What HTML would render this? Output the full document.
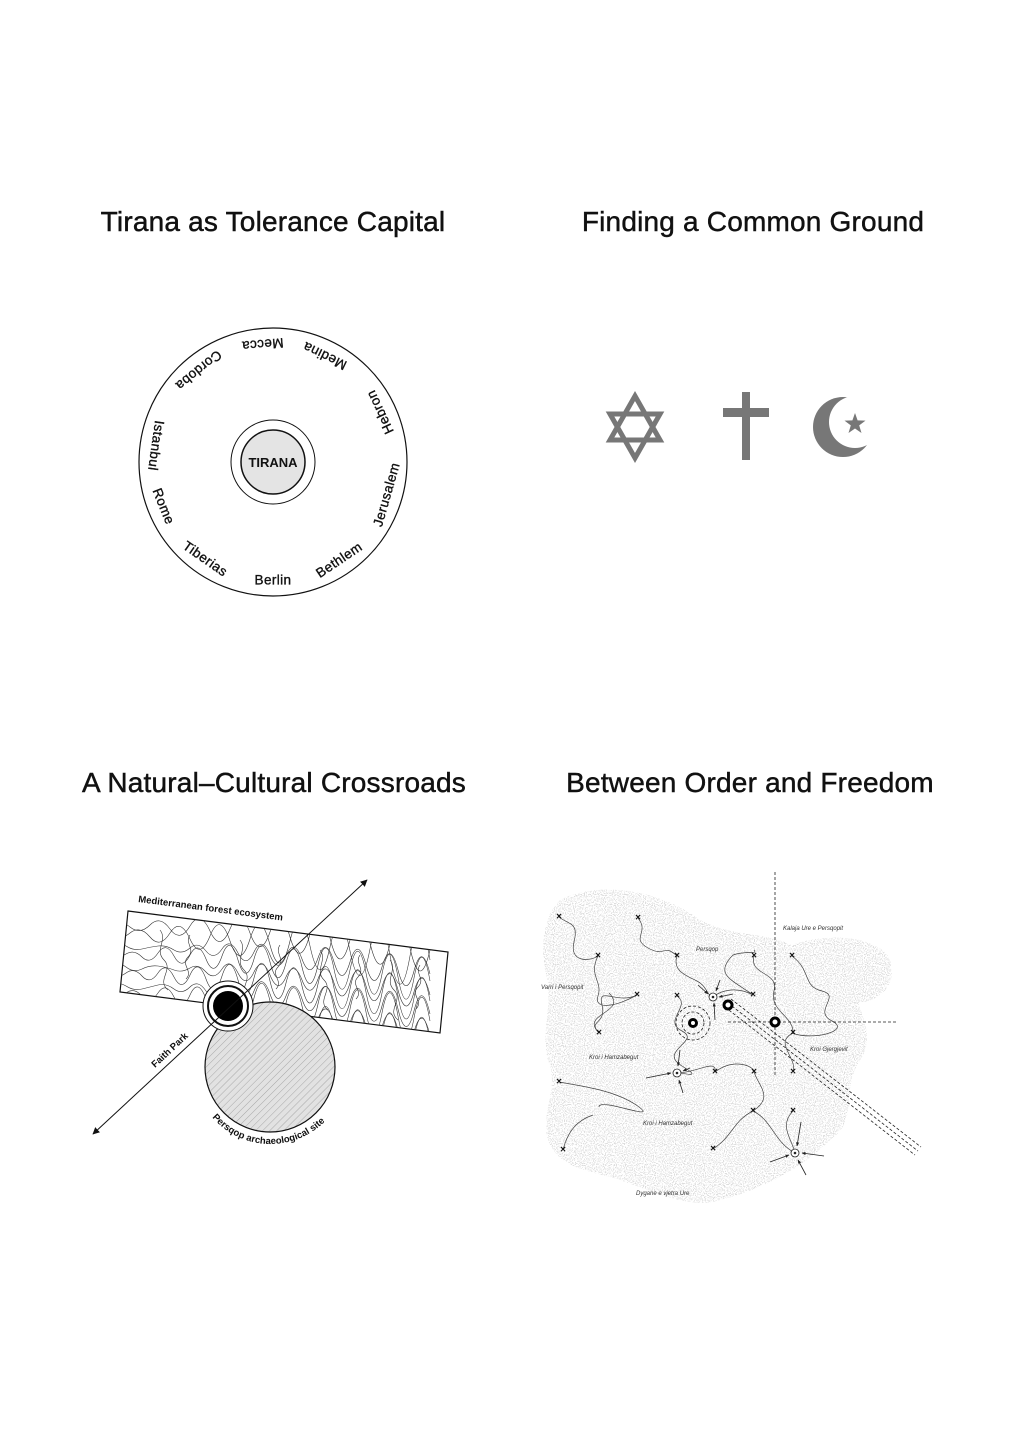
<!DOCTYPE html>
<html><head><meta charset="utf-8"><style>
html,body{margin:0;padding:0;background:#fff}
svg{display:block}
.t{font-family:"Liberation Sans",sans-serif;font-size:28px;fill:#111;stroke:#111;stroke-width:0.45px;letter-spacing:0.2px}
.c{font-family:"Liberation Sans",sans-serif;font-size:13.5px;fill:#111;stroke:#111;stroke-width:0.35px;letter-spacing:0.4px}
.m{font-family:"Liberation Sans",sans-serif;font-size:6px;font-style:italic;fill:#333}
</style></head><body>
<svg width="1017" height="1438" viewBox="0 0 1017 1438" xmlns="http://www.w3.org/2000/svg">
<defs>
<filter id="stip" x="0" y="0" width="100%" height="100%">
<feTurbulence type="fractalNoise" baseFrequency="0.9" numOctaves="1" seed="3" result="n"/>
<feColorMatrix in="n" type="matrix" values="0 0 0 0 0.72  0 0 0 0 0.72  0 0 0 0 0.72  0 0 0 -16 7.6" result="d"/>
<feComposite in="d" in2="SourceGraphic" operator="in"/>
</filter>
<pattern id="hatch" width="5" height="5" patternUnits="userSpaceOnUse" patternTransform="rotate(45)">
<rect width="5" height="5" fill="#e2e2e2"/><line x1="0" y1="0" x2="0" y2="5" stroke="#999" stroke-width="0.8"/>
</pattern>
<clipPath id="band"><polygon points="128,911 448,952 440,1033 120,992"/></clipPath>
<marker id="ah" viewBox="0 0 10 10" refX="9" refY="5" markerWidth="7" markerHeight="7" orient="auto-start-reverse"><path d="M0,0 L10,5 L0,10 z" fill="#111"/></marker>
<marker id="sa" viewBox="0 0 10 10" refX="9" refY="5" markerWidth="5" markerHeight="5" orient="auto"><path d="M0,1 L10,5 L0,9 z" fill="#222"/></marker>
</defs>

<text class="t" x="273" y="231" text-anchor="middle">Tirana as Tolerance Capital</text>
<text class="t" x="753" y="231" text-anchor="middle">Finding a Common Ground</text>
<text class="t" x="274" y="792" text-anchor="middle">A Natural–Cultural Crossroads</text>
<text class="t" x="750" y="792" text-anchor="middle">Between Order and Freedom</text>

<!-- Circle diagram -->
<circle cx="273" cy="462" r="134" fill="none" stroke="#111" stroke-width="1.2"/>
<circle cx="273" cy="462" r="42" fill="none" stroke="#111" stroke-width="1"/>
<circle cx="273" cy="462" r="32" fill="#e4e4e4" stroke="#111" stroke-width="1.5"/>
<text x="273" y="467" text-anchor="middle" font-family="Liberation Sans,sans-serif" font-weight="bold" font-size="13" fill="#111">TIRANA</text>
<g class="c" text-anchor="middle" dominant-baseline="middle">
<text transform="translate(273,462) rotate(0) translate(0,119)">Berlin</text>
<text transform="translate(273,462) rotate(-34) translate(0,119)">Bethlem</text>
<text transform="translate(273,462) rotate(-74) translate(0,119)">Jerusalem</text>
<text transform="translate(273,462) rotate(-115) translate(0,119)">Hebron</text>
<text transform="translate(273,462) rotate(-154) translate(0,119)">Medina</text>
<text transform="translate(273,462) rotate(-185) translate(0,119)">Mecca</text>
<text transform="translate(273,462) rotate(-219) translate(0,119)">Cordoba</text>
<text transform="translate(273,462) rotate(-262) translate(0,119)">Istanbul</text>
<text transform="translate(273,462) rotate(-292) translate(0,119)">Rome</text>
<text transform="translate(273,462) rotate(-325) translate(0,119)">Tiberias</text>
</g>

<!-- Religious symbols -->
<g fill="none" stroke="#777" stroke-width="5" stroke-linejoin="miter">
<polygon points="635,396 660,440 610,440"/>
<polygon points="635,458 660,414 610,414"/>
</g>
<rect x="742" y="392" width="8" height="68" fill="#777"/>
<rect x="723" y="408" width="46" height="9" fill="#777"/>
<circle cx="843" cy="427" r="30" fill="#777"/>
<circle cx="855" cy="422" r="26" fill="#fff"/>
<polygon fill="#777" points="855,413 857.6,420.4 865.5,420.6 859.2,425.4 861.5,433 855,428.5 848.5,433 850.8,425.4 844.5,420.6 852.4,420.4"/>

<!-- Natural-Cultural crossroads -->
<polygon points="128,911 448,952 440,1033 120,992" fill="#fff" stroke="#111" stroke-width="1.2"/>
<g clip-path="url(#band)" fill="none" stroke="#333" stroke-width="0.6">
<path d="M110,925 q10,-6 20,2 t20,-2 t20,4 t20,-3 t20,5 t20,-2 t20,4 t20,-1 t20,5 t20,-3 t20,4 t20,2 t20,3 t20,1 t20,4 t20,2 t20,3"/>
<path d="M110,935 q10,6 20,-2 t20,4 t20,-4 t20,6 t20,-3 t20,5 t20,-2 t20,6 t20,-4 t20,5 t20,1 t20,4 t20,-2 t20,6 t20,1 t20,4"/>
<path d="M110,945 q8,-4 16,1 t16,3 t16,-3 t16,4 t16,-2 t16,3 t16,-2 t16,4 t16,-1 t16,3 t16,1 t16,3 t16,-1 t16,4 t16,0 t16,3 t16,2 t16,3 t16,1 t16,3"/>
<path d="M110,955 q8,4 16,-1 t16,3 t16,-4 t16,3 t16,-1 t16,4 t16,-3 t16,4 t16,-1 t16,3 t16,1 t16,4 t16,-2 t16,4 t16,1 t16,3 t16,1 t16,3 t16,1 t16,3"/>
<path d="M110,965 q8,-4 16,2 t16,2 t16,-3 t16,4 t16,-2 t16,4 t16,-3 t16,4 t16,-1 t16,3 t16,2 t16,3 t16,-1 t16,4 t16,0 t16,3 t16,1 t16,3 t16,2 t16,3"/>
<path d="M110,975 q8,4 16,-2 t16,3 t16,-3 t16,4 t16,-2 t16,4 t16,-3 t16,4 t16,-2 t16,3 t16,2 t16,3 t16,-2 t16,4 t16,1 t16,3 t16,1 t16,3 t16,2 t16,3"/>
<path d="M110,985 q8,-4 16,1 t16,3 t16,-4 t16,4 t16,-2 t16,4 t16,-3 t16,4 t16,-1 t16,3 t16,2 t16,3 t16,-1 t16,4 t16,0 t16,3 t16,1 t16,3 t16,2 t16,3"/>
<path d="M110,995 q8,4 16,-2 t16,3 t16,-3 t16,4 t16,-2 t16,4 t16,-3 t16,4 t16,-2 t16,3 t16,2 t16,3 t16,-2 t16,4 t16,1 t16,3 t16,1 t16,3 t16,2 t16,3"/>
<path d="M110,1005 q8,-4 16,2 t16,2 t16,-3 t16,4 t16,-2 t16,4 t16,-3 t16,4 t16,-1 t16,3 t16,2 t16,3 t16,-1 t16,4 t16,0 t16,3 t16,1 t16,3 t16,2 t16,3"/>
<path d="M110,1015 q8,4 16,-2 t16,3 t16,-3 t16,4 t16,-2 t16,4 t16,-3 t16,4 t16,-2 t16,3 t16,2 t16,3 t16,-2 t16,4 t16,1 t16,3 t16,1 t16,3 t16,2 t16,3"/>
<path d="M110,1025 q8,-4 16,2 t16,2 t16,-3 t16,4 t16,-2 t16,4 t16,-3 t16,4 t16,-1 t16,3 t16,2 t16,3 t16,-1 t16,4 t16,0 t16,3 t16,1 t16,3 t16,2 t16,3"/>
<path d="M160,930 c8,10 -6,20 4,30 s-8,20 4,30 M240,940 c8,10 -6,20 4,30 s-8,20 4,30 M320,950 c8,10 -6,20 4,30 s-8,20 4,30 M390,960 c8,10 -6,20 4,30 s-8,20 4,30"/>
<path d="M190,935 c-6,8 6,14 -2,22 s6,14 -2,22 M280,945 c-6,8 6,14 -2,22 s6,14 -2,22 M360,955 c-6,8 6,14 -2,22 s6,14 -2,22 M420,965 c-6,8 6,14 -2,22 s6,14 -2,22"/>
</g>
<circle cx="270" cy="1067" r="65" fill="url(#hatch)" stroke="#111" stroke-width="1.2"/>
<circle cx="228" cy="1006" r="25" fill="#fff" stroke="#111" stroke-width="1"/>
<circle cx="228" cy="1006" r="20" fill="#fff" stroke="#111" stroke-width="2"/>
<circle cx="228" cy="1006" r="15" fill="#000"/>
<line x1="93" y1="1134" x2="367" y2="880" stroke="#111" stroke-width="1" marker-start="url(#ah)" marker-end="url(#ah)"/>
<text transform="translate(138,902) rotate(7.3)" font-family="Liberation Sans,sans-serif" font-size="9.5" font-weight="bold" fill="#111">Mediterranean forest ecosystem</text>
<text transform="translate(155,1068) rotate(-43)" font-family="Liberation Sans,sans-serif" font-size="9.5" font-weight="bold" fill="#111">Faith Park</text>
<path id="arcp" d="M211,1116 A77,77 0 0 0 340,1100" fill="none"/>
<text font-family="Liberation Sans,sans-serif" font-size="9.5" font-weight="bold" fill="#111"><textPath href="#arcp" startOffset="2">Persqop archaeological site</textPath></text>

<!-- Map -->
<g filter="url(#stip)" fill="#000">
<path d="M560,900 C600,880 660,890 700,920 C740,940 770,930 800,950 C840,960 870,940 860,980 C850,1010 880,1030 860,1060 C840,1090 860,1120 830,1140 C800,1170 760,1190 720,1200 C690,1210 650,1190 620,1180 C590,1170 560,1170 548,1140 C540,1110 560,1090 548,1060 C540,1030 555,1000 545,970 C540,940 545,915 560,900 Z"/>
<path d="M780,950 C820,930 880,935 890,960 C900,990 870,1010 840,1000 C810,990 770,980 780,950 Z"/>
</g>
<g fill="none" stroke="#444" stroke-width="0.7">
<path d="M559,917 c10,8 20,5 15,25 s15,20 24,14 c-10,20 5,25 0,40 s20,10 39,-1"/>
<path d="M638,918 c12,15 -8,20 10,30 s15,-5 29,8 c-5,15 10,20 20,25 s10,15 16,16"/>
<path d="M637,995 c-20,10 -40,-10 -35,10 s-15,15 -3,28"/>
<path d="M677,996 c15,10 -15,25 5,35 s-25,20 0,35 s-5,5 -5,7"/>
<path d="M713,997 c10,-8 25,-10 40,-2 c-20,-15 -40,-20 -20,-40 c15,-5 25,0 21,-5"/>
<path d="M754,956 c-5,20 25,15 20,35 s20,25 19,42 c-20,10 5,25 0,39"/>
<path d="M792,956 c20,15 10,30 30,35 s-10,20 10,30 s-20,20 -40,12"/>
<path d="M715,1072 c20,-15 40,-5 39,0 c5,15 20,25 -1,39 c20,10 20,30 42,42"/>
<path d="M559,1082 c30,5 60,10 80,25 s-40,-10 -40,0"/>
<path d="M677,1073 c20,0 40,-15 38,-1"/>
<path d="M753,1111 c-20,10 -20,25 -40,38"/>
<path d="M793,1111 c-15,15 0,30 2,42"/>
<path d="M563,1150 c5,-20 15,-30 30,-35"/>
<path d="M599,1033 c-20,-20 30,-20 10,-40"/>
</g>
<g stroke="#222" stroke-width="0.8" stroke-dasharray="3,2" fill="none">
<line x1="775" y1="872" x2="775" y2="1077"/>
<line x1="728" y1="1022" x2="898" y2="1022"/>
<line x1="728" y1="1003" x2="918" y2="1151"/>
<line x1="731" y1="999" x2="921" y2="1147"/>
<line x1="725" y1="1007" x2="915" y2="1155"/>
<circle cx="693" cy="1023" r="17"/>
<circle cx="693" cy="1023" r="11"/>
</g>
<g fill="#fff" stroke="#000" stroke-width="3">
<circle cx="728" cy="1005" r="4"/><circle cx="775" cy="1022" r="4"/><circle cx="693" cy="1023" r="3.5"/>
</g>
<g fill="#fff" stroke="#222" stroke-width="0.8">
<circle cx="713" cy="997" r="4"/><circle cx="677" cy="1073" r="4"/><circle cx="795" cy="1153" r="4"/>
</g>
<g fill="#222"><circle cx="713" cy="997" r="1.3"/><circle cx="677" cy="1073" r="1.3"/><circle cx="795" cy="1153" r="1.3"/></g>
<g stroke="#222" stroke-width="0.8" marker-end="url(#sa)">
<line x1="698" y1="985" x2="708" y2="994"/><line x1="720" y1="980" x2="716" y2="991"/><line x1="733" y1="994" x2="719" y2="997"/><line x1="715" y1="1020" x2="714" y2="1003"/>
<line x1="646" y1="1078" x2="671" y2="1073"/><line x1="680" y1="1050" x2="678" y2="1066"/><line x1="690" y1="1068" x2="683" y2="1071"/><line x1="683" y1="1093" x2="679" y2="1080"/>
<line x1="770" y1="1162" x2="789" y2="1155"/><line x1="801" y1="1122" x2="797" y2="1146"/><line x1="824" y1="1156" x2="802" y2="1153"/><line x1="806" y1="1175" x2="798" y2="1160"/>
</g>
<g font-family="Liberation Sans,sans-serif" font-size="10" font-weight="bold" fill="#111" text-anchor="middle" dominant-baseline="middle">
<text x="559" y="917">×</text><text x="638" y="918">×</text><text x="598" y="956">×</text><text x="677" y="956">×</text><text x="754" y="956">×</text><text x="792" y="956">×</text><text x="637" y="995">×</text><text x="677" y="996">×</text><text x="753" y="995">×</text><text x="599" y="1033">×</text><text x="793" y="1033">×</text><text x="715" y="1072">×</text><text x="754" y="1072">×</text><text x="793" y="1072">×</text><text x="559" y="1082">×</text><text x="753" y="1111">×</text><text x="793" y="1111">×</text><text x="563" y="1150">×</text><text x="713" y="1149">×</text>
</g>
<g class="m">
<text x="783" y="930">Kalaja Ure e Persqopit</text>
<text x="696" y="951">Persqop</text>
<text x="541" y="989">Varri i Persqopit</text>
<text x="589" y="1059">Kroi i Hamzabegut</text>
<text x="643" y="1125">Kroi i Hamzabegut</text>
<text x="810" y="1051">Kroi Gjergjevit</text>
<text x="636" y="1195">Dygane e vjetra Ure</text>
</g>
</svg>
</body></html>
